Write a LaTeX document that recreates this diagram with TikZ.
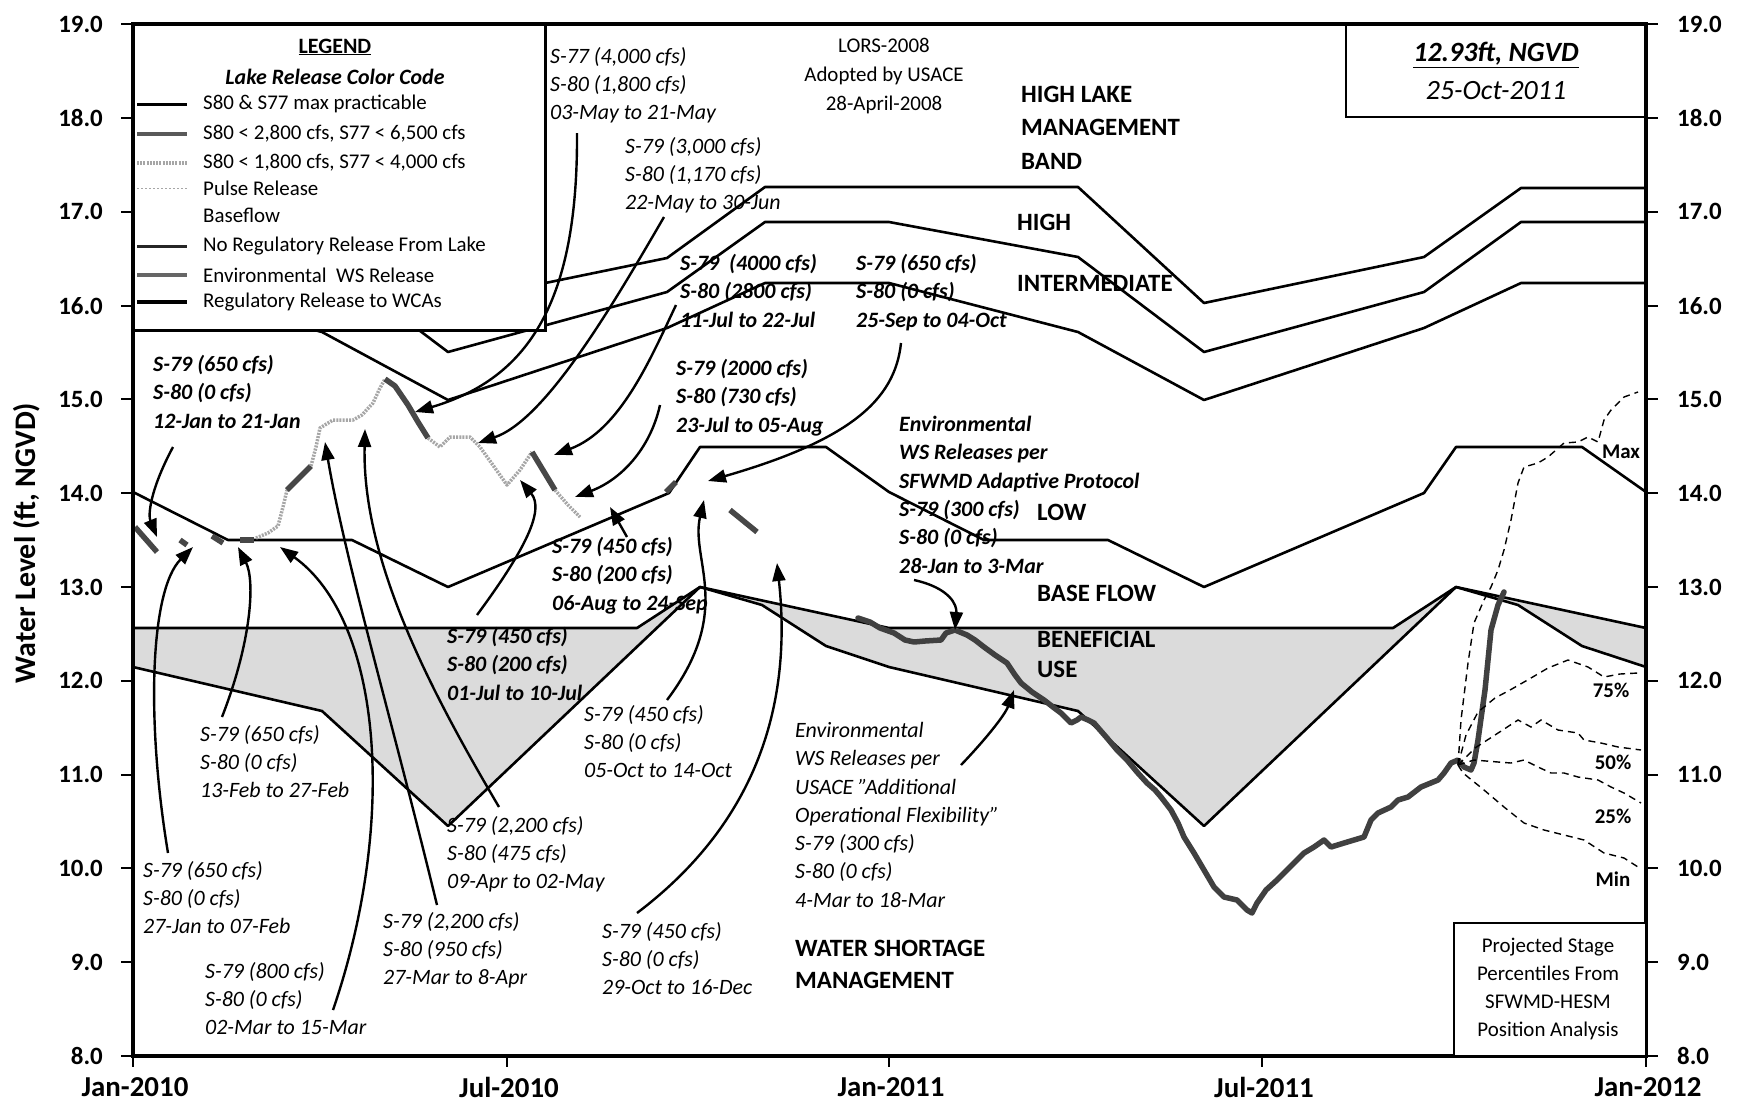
\documentclass[tikz,border=0pt]{standalone}
\usepackage{fontspec}
\setmainfont{Carlito}
\usetikzlibrary{arrows.meta}
\newcommand\fsAnn{\fontsize{22}{28.4}\selectfont}
\newcommand\fsZone{\fontsize{25}{33}\selectfont}
\newcommand\fsLeg{\fontsize{21}{26}\selectfont}
\begin{document}
\begin{tikzpicture}[x=1bp,y=-1bp,
  ann/.style={font=\fsAnn\itshape,align=left,anchor=north west,inner sep=0pt},
  annb/.style={font=\fsAnn\itshape\bfseries,align=left,anchor=north west,inner sep=0pt},
  zone/.style={font=\fsZone\bfseries,align=left,anchor=west,inner sep=0pt},
  zoneline/.style={draw=black,line width=2.6bp,line join=round},
  arr/.style={draw=black,line width=2.4bp,-{Triangle[length=18bp,width=13bp]}},
  stageL/.style={draw=black!35,line width=3.5bp,dash pattern=on 2bp off 1.2bp,line join=round},
  stageD/.style={draw=black!72,line width=5.5bp,line join=round},
  obs/.style={draw=black!75,line width=5.5bp,line join=round,line cap=round},
  pct/.style={draw=black,line width=1.4bp,dash pattern=on 7bp off 5bp},
  pctlab/.style={font=\fontsize{21}{24}\selectfont\bfseries,inner sep=0pt},
  tick/.style={draw=black,line width=2bp},
  ylab/.style={font=\fontsize{25}{28}\selectfont\bfseries,inner sep=0pt},
  xlab/.style={font=\fontsize{29}{32}\selectfont\bfseries,inner sep=0pt}]
\useasboundingbox (0,0) rectangle (1747,1108);

% ---------- shaded beneficial use zone ----------
\fill[black!14] (133,628) -- (637,628) -- (700,587) -- (889,628) -- (1393,628) -- (1456,587) -- (1646,628)
  -- (1646,667) -- (1582,646) -- (1518,605) -- (1456,587) -- (1204,826) -- (1078,711) -- (889,667)
  -- (826,646) -- (762,605) -- (700,587) -- (448,826) -- (322,711) -- (133,667) -- cycle;

% ---------- LORS zone lines ----------
\draw[zoneline] (133,188) -- (322,188) -- (448,303) -- (667,258) -- (765,187) -- (1078,187) -- (1204,303) -- (1424,257) -- (1521,188) -- (1646,188);
\draw[zoneline] (133,222) -- (322,257) -- (448,352) -- (667,292) -- (765,222) -- (889,222) -- (1078,257) -- (1204,352) -- (1424,292) -- (1521,222) -- (1646,222);
\draw[zoneline] (133,283) -- (322,332) -- (448,400) -- (667,328) -- (765,283) -- (889,283) -- (1078,332) -- (1204,400) -- (1424,328) -- (1521,283) -- (1646,283);
\draw[zoneline] (133,492) -- (228,540) -- (352,540) -- (448,587) -- (669,493) -- (700,447) -- (826,447) -- (889,492) -- (984,540) -- (1108,540) -- (1204,587) -- (1424,493) -- (1456,447) -- (1582,447) -- (1646,492);
\draw[zoneline] (133,628) -- (637,628) -- (700,587) -- (889,628) -- (1393,628) -- (1456,587) -- (1646,628);
\draw[zoneline] (133,667) -- (322,711) -- (448,826) -- (700,587) -- (762,605) -- (826,646) -- (889,667) -- (1078,711) -- (1204,826) -- (1456,587) -- (1518,605) -- (1582,646) -- (1646,667);

% ---------- 2010 lake stage (release coded) ----------
\draw[stageD] (135,527) -- (157,552);
\draw[stageD] (180,540) -- (187,545);
\draw[stageD] (212,536) -- (223,543);
\draw[stageD] (240,540) -- (254,540);
\draw[stageL] (256,538) -- (268,533) -- (278,526) -- (283,507) -- (287,490);
\draw[stageD] (287,490) -- (311,466);
\draw[stageL] (311,466) -- (316,447) -- (320,428) -- (333,420) -- (353,420) -- (362,415) -- (373,403) -- (380,388) -- (385,379);
\draw[stageD] (385,379) -- (395,386) -- (408,405) -- (418,422) -- (428,438);
\draw[stageL] (428,438) -- (440,447) -- (450,437) -- (470,437) -- (480,447) -- (495,468) -- (507,485) -- (520,470) -- (532,452);
\draw[stageD] (532,452) -- (555,490);
\draw[stageL] (555,490) -- (568,505) -- (580,517);
\draw[stageD] (666,492) -- (676,482);
\draw[stageD] (730,510) -- (757,532);

% ---------- 2011 observed stage ----------
\draw[obs] (858,618) -- (870,622) -- (880,628) -- (894,633) -- (905,640) -- (914,642) -- (925,641) -- (941,640) -- (946,633) -- (955,630) -- (967,635) -- (975,640) -- (984,647) -- (995,655) -- (1007,663) -- (1015,675) -- (1021,683) -- (1032,692) -- (1044,700) -- (1053,707) -- (1061,713) -- (1071,723) -- (1077,720) -- (1081,717) -- (1088,720) -- (1094,723) -- (1100,730) -- (1107,738) -- (1117,750) -- (1127,760) -- (1137,772) -- (1147,783) -- (1155,790) -- (1161,797) -- (1171,810) -- (1178,823) -- (1184,837) -- (1194,853) -- (1204,870) -- (1214,887) -- (1224,897) -- (1237,900) -- (1247,910) -- (1252,913) -- (1257,903) -- (1266,890) -- (1277,880) -- (1290,867) -- (1304,853) -- (1314,847) -- (1324,840) -- (1331,847) -- (1344,843) -- (1364,837) -- (1371,820) -- (1378,813) -- (1391,807) -- (1398,800) -- (1408,797) -- (1421,787) -- (1438,780) -- (1444,773) -- (1451,763) -- (1458,760) -- (1464,767) -- (1471,770) -- (1474,763) -- (1478,740) -- (1485,690) -- (1491,630) -- (1498,605) -- (1504,592);

% ---------- projections ----------
\draw[pct] (1458,765) -- (1461,720) -- (1468,663) -- (1474,623) -- (1484,600) -- (1491,587) -- (1498,570) -- (1504,550) -- (1511,520) -- (1518,483) -- (1524,467) -- (1538,463) -- (1548,457) -- (1564,443) -- (1578,442) -- (1588,437) -- (1598,442) -- (1604,420) -- (1611,410) -- (1624,397) -- (1638,392);
\draw[pct] (1458,765) -- (1466,735) -- (1478,712) -- (1495,698) -- (1510,690) -- (1524,682) -- (1531,678) -- (1548,668) -- (1568,660) -- (1588,667) -- (1604,677) -- (1620,674) -- (1638,673);
\draw[pct] (1458,765) -- (1475,748) -- (1495,735) -- (1518,720) -- (1531,727) -- (1541,720) -- (1558,730) -- (1578,733) -- (1584,740) -- (1601,743) -- (1618,747) -- (1641,750);
\draw[pct] (1458,765) -- (1474,760) -- (1498,762) -- (1511,763) -- (1524,760) -- (1538,767) -- (1551,773) -- (1564,773) -- (1578,777) -- (1598,780) -- (1611,787) -- (1624,793) -- (1641,803);
\draw[pct] (1458,765) -- (1463,773) -- (1484,790) -- (1504,807) -- (1524,823) -- (1544,830) -- (1564,835) -- (1584,840) -- (1604,853) -- (1624,858) -- (1638,867);
\node[pctlab] (pmax) at (1621,452) {Max};
\node[pctlab] (p75) at (1611,690) {75\%};
\node[pctlab] (p50) at (1613,762) {50\%};
\node[pctlab] (p25) at (1613,816) {25\%};
\node[pctlab] (pmin) at (1613,879) {Min};

% ---------- axes ----------
\draw[line width=3.5bp] (133,24) rectangle (1646,1056);
\foreach \v in {8,...,19}{
  \pgfmathsetmacro\yy{1056-93.8*(\v-8)}
  \draw[tick] (121,\yy) -- (133,\yy);
  \draw[tick] (1646,\yy) -- (1658,\yy);
  \node[ylab,anchor=east] (yl\v) at (103,\yy) {\v.0};
  \node[ylab,anchor=west] (yr\v) at (1677,\yy) {\v.0};
}
\foreach \xx/\lab/\nm in {133/Jan-2010/a,507/Jul-2010/b,889/Jan-2011/c,1262/Jul-2011/d,1646/Jan-2012/e}{
  \draw[tick] (\xx,1056) -- (\xx,1067);
  \node[xlab] (xl\nm) at (\xx+2,1087) {\lab};
}
\node[font=\fontsize{30}{32}\selectfont\bfseries,rotate=90,inner sep=0pt] (ytitle) at (27,543) {Water Level (ft, NGVD)};

% ---------- legend ----------
\draw[line width=3bp,fill=white] (133,24) rectangle (545,330);
\node[font=\fontsize{22}{24}\selectfont\bfseries,inner sep=0pt] (legt) at (335,47) {\underline{LEGEND}};
\node[font=\fontsize{22}{24}\selectfont\bfseries\itshape,inner sep=0pt] (legs) at (335,77) {Lake Release Color Code};
\draw[black,line width=3bp] (137,104) -- (187,104);
\node[font=\fsLeg,anchor=west,inner sep=0pt] (lg1) at (203,104) {S80 \& S77 max practicable};
\draw[black!65,line width=4bp] (137,134) -- (187,134);
\node[font=\fsLeg,anchor=west,inner sep=0pt] (lg2) at (203,134) {S80 < 2,800 cfs, S77 < 6,500 cfs};
\draw[black!35,line width=4bp,dash pattern=on 2bp off 1.2bp] (137,163) -- (187,163);
\node[font=\fsLeg,anchor=west,inner sep=0pt] (lg3) at (203,163) {S80 < 1,800 cfs, S77 < 4,000 cfs};
\draw[black!35,line width=1bp,dash pattern=on 2bp off 2bp] (137,188) -- (187,188);
\node[font=\fsLeg,anchor=west,inner sep=0pt] (lg4) at (203,188) {Pulse Release};
\node[font=\fsLeg,anchor=west,inner sep=0pt] (lg5) at (203,215) {Baseflow};
\draw[black!85,line width=3bp] (137,246) -- (187,246);
\node[font=\fsLeg,anchor=west,inner sep=0pt] (lg6) at (203,246) {No Regulatory Release From Lake};
\draw[black!60,line width=4bp] (137,275) -- (187,275);
\node[font=\fsLeg,anchor=west,inner sep=0pt] (lg7) at (203,275) {Environmental\ \ WS Release};
\draw[black,line width=3.5bp] (137,302) -- (187,302);
\node[font=\fsLeg,anchor=west,inner sep=0pt] (lg8) at (203,302) {Regulatory Release to WCAs};

% ---------- info boxes ----------
\draw[line width=2bp] (1346,24) rectangle (1646,117);
\node[font=\fontsize{28}{30}\selectfont\bfseries\itshape,inner sep=0pt] (stg) at (1496,55) {\underline{12.93ft, NGVD}};
\node[font=\fontsize{28}{30}\selectfont\itshape,inner sep=0pt] (dte) at (1496,91) {25-Oct-2011};
\draw[line width=2bp,fill=white] (1454,923) rectangle (1646,1056);
\node[font=\fontsize{21}{28.3}\selectfont,align=center,inner sep=0pt] (proj) at (1548,989) {Projected Stage\\Percentiles From\\SFWMD-HESM\\Position Analysis};
\node[font=\fontsize{21}{29.5}\selectfont,align=center,inner sep=0pt] (lors) at (884,76) {LORS-2008\\Adopted by USACE\\28-April-2008};

% ---------- zone labels ----------
\node[zone,anchor=north west,font=\fontsize{25}{33.5}\selectfont\bfseries] (zhl) at (1021,86) {HIGH LAKE\\MANAGEMENT\\BAND};
\node[zone] (zh) at (1017,222) {HIGH};
\node[zone] (zi) at (1017,283) {INTERMEDIATE};
\node[zone] (zl) at (1037,512) {LOW};
\node[zone] (zb) at (1037,593) {BASE FLOW};
\node[zone,anchor=north west,font=\fontsize{25}{30}\selectfont\bfseries] (zbu) at (1037,631) {BENEFICIAL\\USE};
\node[zone,anchor=north west,font=\fontsize{25}{32}\selectfont\bfseries] (zws) at (795,940) {WATER SHORTAGE\\MANAGEMENT};

% ---------- annotations ----------
\node[annb] (tA) at (153,355) {S-79 (650 cfs)\\S-80 (0 cfs)\\12-Jan to 21-Jan};
\node[ann] (tB) at (143,861) {S-79 (650 cfs)\\S-80 (0 cfs)\\27-Jan to 07-Feb};
\node[ann] (tC) at (200,725) {S-79 (650 cfs)\\S-80 (0 cfs)\\13-Feb to 27-Feb};
\node[ann] (tD) at (205,962) {S-79 (800 cfs)\\S-80 (0 cfs)\\02-Mar to 15-Mar};
\node[ann] (tE) at (383,912) {S-79 (2,200 cfs)\\S-80 (950 cfs)\\27-Mar to 8-Apr};
\node[ann] (tF) at (447,816) {S-79 (2,200 cfs)\\S-80 (475 cfs)\\09-Apr to 02-May};
\node[ann] (tG) at (550,47) {S-77 (4,000 cfs)\\S-80 (1,800 cfs)\\03-May to 21-May};
\node[ann] (tH) at (625,137) {S-79 (3,000 cfs)\\S-80 (1,170 cfs)\\22-May to 30-Jun};
\node[annb] (tI) at (680,254) {S-79\ \ (4000 cfs)\\S-80 (2800 cfs)\\11-Jul to 22-Jul};
\node[annb] (tJ) at (676,359) {S-79 (2000 cfs)\\S-80 (730 cfs)\\23-Jul to 05-Aug};
\node[annb] (tK) at (552,537) {S-79 (450 cfs)\\S-80 (200 cfs)\\06-Aug to 24-Sep};
\node[annb] (tL) at (856,254) {S-79 (650 cfs)\\S-80 (0 cfs)\\25-Sep to 04-Oct};
\node[ann] (tM) at (584,705) {S-79 (450 cfs)\\S-80 (0 cfs)\\05-Oct to 14-Oct};
\node[annb] (tN) at (447,627) {S-79 (450 cfs)\\S-80 (200 cfs)\\01-Jul to 10-Jul};
\node[ann] (tO) at (602,922) {S-79 (450 cfs)\\S-80 (0 cfs)\\29-Oct to 16-Dec};
\node[ann] (tP) at (795,722) {Environmental\\WS Releases per\\USACE "Additional\\Operational Flexibility"\\S-79 (300 cfs)\\S-80 (0 cfs)\\4-Mar to 18-Mar};
\node[annb] (tQ) at (899,416) {Environmental\\WS Releases per\\SFWMD Adaptive Protocol\\S-79 (300 cfs)\\S-80 (0 cfs)\\28-Jan to 3-Mar};

% ---------- arrow end points ----------
\coordinate (a0) at (173,447); \coordinate (a1) at (157,537);
\coordinate (b0) at (168,853); \coordinate (b1) at (193,547);
\coordinate (c0) at (222,717); \coordinate (c1) at (238,547);
\coordinate (d0) at (333,1010); \coordinate (d1) at (280,547);
\coordinate (e0) at (437,905); \coordinate (e1) at (325,442);
\coordinate (f0) at (499,807); \coordinate (f1) at (365,429);
\coordinate (g0) at (577,133); \coordinate (g1) at (415,412);
\coordinate (h0) at (664,217); \coordinate (h1) at (478,443);
\coordinate (i0) at (676,305); \coordinate (i1) at (554,455);
\coordinate (j0) at (660,405); \coordinate (j1) at (575,497);
\coordinate (k0) at (627,537); \coordinate (k1) at (610,507);
\coordinate (l0) at (901,343); \coordinate (l1) at (708,481);
\coordinate (m0) at (667,700); \coordinate (m1) at (704,500);
\coordinate (n0) at (477,615); \coordinate (n1) at (520,480);
\coordinate (o0) at (637,913); \coordinate (o1) at (777,563);
\coordinate (p0) at (961,765); \coordinate (p1) at (1014,690);
\coordinate (q0) at (914,580); \coordinate (q1) at (955,630);

\draw[arr] (a0) .. controls (150,490) and (148,515) .. (a1);
\draw[arr] (b0) .. controls (146,720) and (150,590) .. (b1);
\draw[arr] (c0) .. controls (252,640) and (255,580) .. (c1);
\draw[arr] (d0) .. controls (398,820) and (382,620) .. (d1);
\draw[arr] (e0) .. controls (392,720) and (345,560) .. (e1);
\draw[arr] (f0) .. controls (430,690) and (362,560) .. (f1);
\draw[arr] (g0) .. controls (578,300) and (530,378) .. (g1);
\draw[arr] (h0) .. controls (610,310) and (545,420) .. (h1);
\draw[arr] (i0) .. controls (650,360) and (620,430) .. (i1);
\draw[arr] (j0) .. controls (650,450) and (620,480) .. (j1);
\draw[arr] (k0) -- (k1);
\draw[arr] (l0) .. controls (895,400) and (850,440) .. (l1);
\draw[arr] (m0) .. controls (735,610) and (690,560) .. (m1);
\draw[arr] (n0) .. controls (525,550) and (545,510) .. (n1);
\draw[arr] (o0) .. controls (760,820) and (792,700) .. (o1);
\draw[arr] (p0) .. controls (985,740) and (1005,715) .. (p1);
\draw[arr] (q0) .. controls (950,588) and (957,605) .. (q1);
\end{tikzpicture}
\end{document}
